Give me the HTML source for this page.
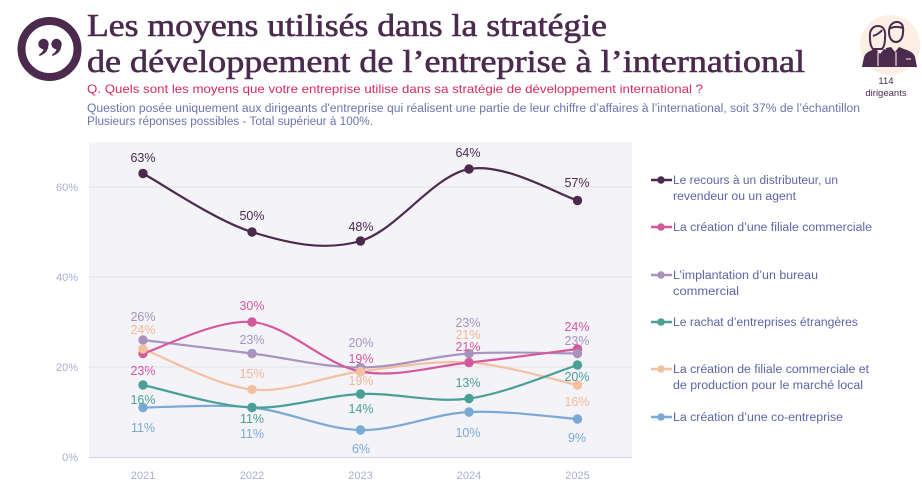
<!DOCTYPE html>
<html><head><meta charset="utf-8"><style>
html,body{margin:0;padding:0;background:#fff;}
svg{display:block;}
</style></head><body>
<svg width="922" height="488" viewBox="0 0 922 488" xmlns="http://www.w3.org/2000/svg" font-family="'Liberation Sans', sans-serif">
<rect width="922" height="488" fill="#fff"/>
<!-- quote icon -->
<circle cx="49.5" cy="49" r="28" fill="none" stroke="#4b2a4e" stroke-width="8"/>
<circle cx="43.5" cy="44" r="5.2" fill="#4b2a4e"/>
<path d="M48.3 45 C48.5 50 45.5 54 39.5 56 L39 54.5 C42.5 52.5 44 50 43.5 47 Z" fill="#4b2a4e"/>
<circle cx="56.5" cy="44" r="5.2" fill="#4b2a4e"/>
<path d="M61.3 45 C61.5 50 58.5 54 52.5 56 L52 54.5 C55.5 52.5 57 50 56.5 47 Z" fill="#4b2a4e"/>
<!-- title -->
<g font-family="'Liberation Serif', serif" font-size="32" fill="#4b2a4e" stroke="#4b2a4e" stroke-width="0.6">
<text x="87" y="36" textLength="520" lengthAdjust="spacingAndGlyphs">Les moyens utilisés dans la stratégie</text>
<text x="87" y="72" textLength="718" lengthAdjust="spacingAndGlyphs">de développement de l’entreprise à l’international</text>
</g>
<text x="87" y="93" font-size="12" fill="#d62a5c" textLength="616" lengthAdjust="spacingAndGlyphs">Q. Quels sont les moyens que votre entreprise utilise dans sa stratégie de développement international ?</text>
<text x="87" y="112" font-size="11.5" fill="#6b74ad" textLength="773" lengthAdjust="spacingAndGlyphs">Question posée uniquement aux dirigeants d'entreprise qui réalisent une partie de leur chiffre d’affaires à l’international, soit 37% de l’échantillon</text>
<text x="87" y="125" font-size="11.5" fill="#6b74ad" textLength="286" lengthAdjust="spacingAndGlyphs">Plusieurs réponses possibles - Total supérieur à 100%.</text>
<!-- persons icon -->
<circle cx="890" cy="45" r="30" fill="#fdefe4"/>
<g fill="#4b2a4e">
<!-- man body -->
<path d="M886 48 L891 47 L895 52 L899 47 L904 49 C910 51 914 53 915 57 L917 67 L882 67 Z"/>
<!-- woman body -->
<path d="M864 57 C866 52 871 50 876 49 L880 54 L884 49 C889 51 891 55 891 60 L892 67 L862 67 Z"/>
</g>
<g fill="none" stroke="#4b2a4e" stroke-width="2">
<!-- man head -->
<path d="M889 32 C889 25 893 22 897 22 C901 22 904 25 903 32 C903 38 900 42 896 42 C892 42 889 38 889 32 Z"/>
<path d="M889 29 C892 27 897 26 903 28"/>
<!-- woman head -->
<path d="M870 38 C869 30 873 26 878 26 C883 26 886 30 885 38 C885 43 884 47 882 49 L873 49 C871 47 870 43 870 38 Z"/>
<path d="M873 36 C876 35 880 33 882 30"/>
</g>
<path d="M878 52 L878 66 M896 52 L896 66 M906 59 L911 59" stroke="#fdefe4" stroke-width="1.1"/>
<text x="886" y="84" font-size="9.5" fill="#4b2a4e" text-anchor="middle">114</text>
<text x="886" y="96" font-size="9.5" fill="#4b2a4e" text-anchor="middle">dirigeants</text>
<!-- plot -->
<rect x="89" y="142" width="543" height="315" fill="#f4f3f8"/>
<g stroke="#e3e1ea" stroke-width="1">
<line x1="89" y1="187" x2="632" y2="187"/>
<line x1="89" y1="277" x2="632" y2="277"/>
<line x1="89" y1="367" x2="632" y2="367"/>
</g>
<line x1="89" y1="457.5" x2="632" y2="457.5" stroke="#d9d8e2" stroke-width="1.2"/>
<g font-size="11" fill="#a8afd0" text-anchor="end">
<text x="78" y="191">60%</text>
<text x="78" y="281">40%</text>
<text x="78" y="371">20%</text>
<text x="78" y="461">0%</text>
</g>
<g font-size="11" fill="#a8afd0" text-anchor="middle">
<text x="143" y="479">2021</text>
<text x="252" y="479">2022</text>
<text x="360.5" y="479">2023</text>
<text x="469" y="479">2024</text>
<text x="577.5" y="479">2025</text>
</g>
<g fill="none" stroke-width="2.2">
<path stroke="#f4c0a2" d="M143 349 C161.17 355.75 215.75 385.75 252 389.5 C288.25 393.25 324.33 376 360.5 371.5 C396.67 367 432.83 360.25 469 362.5 C505.17 364.75 559.42 381.25 577.5 385"/>
<path stroke="#7aa9d6" d="M143 407.5 C161.17 407.5 215.75 403.75 252 407.5 C288.25 411.25 324.33 429.25 360.5 430 C396.67 430.75 432.83 413.83 469 412 C505.17 410.17 559.42 417.83 577.5 419"/>
<path stroke="#4a9f97" d="M143 385 C161.17 388.75 215.75 406 252 407.5 C288.25 409 324.33 395.5 360.5 394 C396.67 392.5 432.83 403.33 469 398.5 C505.17 393.67 559.42 370.58 577.5 365"/>
<path stroke="#a893bd" d="M143 340 C161.17 342.25 215.75 348.92 252 353.5 C288.25 358.08 324.33 367.5 360.5 367.5 C396.67 367.5 432.83 355.83 469 353.5 C505.17 351.17 559.42 353.5 577.5 353.5"/>
<path stroke="#d4589c" d="M143 353.5 C161.17 348.25 215.75 319 252 322 C288.25 325 324.33 364.75 360.5 371.5 C396.67 378.25 432.83 366.25 469 362.5 C505.17 358.75 559.42 351.25 577.5 349"/>
<path stroke="#4b2a4e" d="M143 173.5 C161.17 183.25 215.75 220.75 252 232 C288.25 243.25 324.33 251.5 360.5 241 C396.67 230.5 432.83 175.75 469 169 C505.17 162.25 559.42 195.25 577.5 200.5"/>
</g>
<!-- dots -->
<g fill="#f4c0a2"><circle cx="143" cy="349" r="4.7"/><circle cx="252" cy="389.5" r="4.7"/><circle cx="360.5" cy="371.5" r="4.7"/><circle cx="469" cy="362.5" r="4.7"/><circle cx="577.5" cy="385" r="4.7"/></g>
<g fill="#7aa9d6"><circle cx="143" cy="407.5" r="4.7"/><circle cx="252" cy="407.5" r="4.7"/><circle cx="360.5" cy="430" r="4.7"/><circle cx="469" cy="412" r="4.7"/><circle cx="577.5" cy="419" r="4.7"/></g>
<g fill="#4a9f97"><circle cx="143" cy="385" r="4.7"/><circle cx="252" cy="407.5" r="4.7"/><circle cx="360.5" cy="394" r="4.7"/><circle cx="469" cy="398.5" r="4.7"/><circle cx="577.5" cy="365" r="4.7"/></g>
<g fill="#d4589c"><circle cx="143" cy="353.5" r="4.7"/><circle cx="252" cy="322" r="4.7"/><circle cx="360.5" cy="371.5" r="4.7"/><circle cx="469" cy="362.5" r="4.7"/><circle cx="577.5" cy="349" r="4.7"/></g>
<g fill="#a893bd"><circle cx="143" cy="340" r="4.7"/><circle cx="252" cy="353.5" r="4.7"/><circle cx="360.5" cy="367.5" r="4.7"/><circle cx="469" cy="353.5" r="4.7"/><circle cx="577.5" cy="353.5" r="4.7"/></g>
<g fill="#f4c0a2"><circle cx="143" cy="349" r="4.7"/><circle cx="360.5" cy="371.5" r="4.7"/></g>
<g fill="#4b2a4e"><circle cx="143" cy="173.5" r="4.7"/><circle cx="252" cy="232" r="4.7"/><circle cx="360.5" cy="241" r="4.7"/><circle cx="469" cy="169" r="4.7"/><circle cx="577.5" cy="200.5" r="4.7"/></g>
<!-- data labels -->
<g font-size="12.5" text-anchor="middle">
<g fill="#4b2a4e">
<text x="143" y="162">63%</text><text x="252" y="220">50%</text><text x="361" y="231">48%</text><text x="468" y="157">64%</text><text x="577" y="187">57%</text>
</g>
<g fill="#a893bd">
<text x="143" y="321">26%</text><text x="252" y="344">23%</text><text x="361" y="347">20%</text><text x="468" y="327">23%</text><text x="577" y="345">23%</text>
</g>
<g fill="#f4b898">
<text x="143" y="334">24%</text><text x="252" y="378">15%</text><text x="361" y="385">19%</text><text x="468" y="339">21%</text><text x="577" y="406">16%</text>
</g>
<g fill="#d4589c">
<text x="143" y="375">23%</text><text x="252" y="310">30%</text><text x="361" y="363">19%</text><text x="468" y="351">21%</text><text x="577" y="331">24%</text>
</g>
<g fill="#4a9f97">
<text x="143" y="404">16%</text><text x="252" y="423">11%</text><text x="361" y="413">14%</text><text x="468" y="387">13%</text><text x="577" y="381">20%</text>
</g>
<g fill="#7aa9d6">
<text x="143" y="432">11%</text><text x="252" y="438">11%</text><text x="361" y="453">6%</text><text x="468" y="437">10%</text><text x="577" y="442">9%</text>
</g>
</g>
<!-- legend -->
<g stroke-width="2.5">
<line x1="651" y1="180" x2="672" y2="180" stroke="#4b2a4e"/>
<line x1="651" y1="227" x2="672" y2="227" stroke="#d4589c"/>
<line x1="651" y1="275" x2="672" y2="275" stroke="#a893bd"/>
<line x1="651" y1="322" x2="672" y2="322" stroke="#4a9f97"/>
<line x1="651" y1="369" x2="672" y2="369" stroke="#f4c0a2"/>
<line x1="651" y1="417" x2="672" y2="417" stroke="#7aa9d6"/>
</g>
<circle cx="661" cy="180" r="3.8" fill="#4b2a4e"/>
<circle cx="661" cy="227" r="3.8" fill="#d4589c"/>
<circle cx="661" cy="275" r="3.8" fill="#a893bd"/>
<circle cx="661" cy="322" r="3.8" fill="#4a9f97"/>
<circle cx="661" cy="369" r="3.8" fill="#f4c0a2"/>
<circle cx="661" cy="417" r="3.8" fill="#7aa9d6"/>
<g font-size="11.5" fill="#5d64a6">
<text x="673" y="184" textLength="165" lengthAdjust="spacingAndGlyphs">Le recours à un distributeur, un</text>
<text x="673" y="200" textLength="123" lengthAdjust="spacingAndGlyphs">revendeur ou un agent</text>
<text x="673" y="231" textLength="199" lengthAdjust="spacingAndGlyphs">La création d’une filiale commerciale</text>
<text x="673" y="279" textLength="145" lengthAdjust="spacingAndGlyphs">L’implantation d’un bureau</text>
<text x="673" y="295" textLength="66" lengthAdjust="spacingAndGlyphs">commercial</text>
<text x="673" y="326" textLength="185" lengthAdjust="spacingAndGlyphs">Le rachat d’entreprises étrangères</text>
<text x="673" y="373" textLength="196" lengthAdjust="spacingAndGlyphs">La création de filiale commerciale et</text>
<text x="673" y="389" textLength="190" lengthAdjust="spacingAndGlyphs">de production pour le marché local</text>
<text x="673" y="421" textLength="170" lengthAdjust="spacingAndGlyphs">La création d’une co-entreprise</text>
</g>
</svg>
</body></html>
